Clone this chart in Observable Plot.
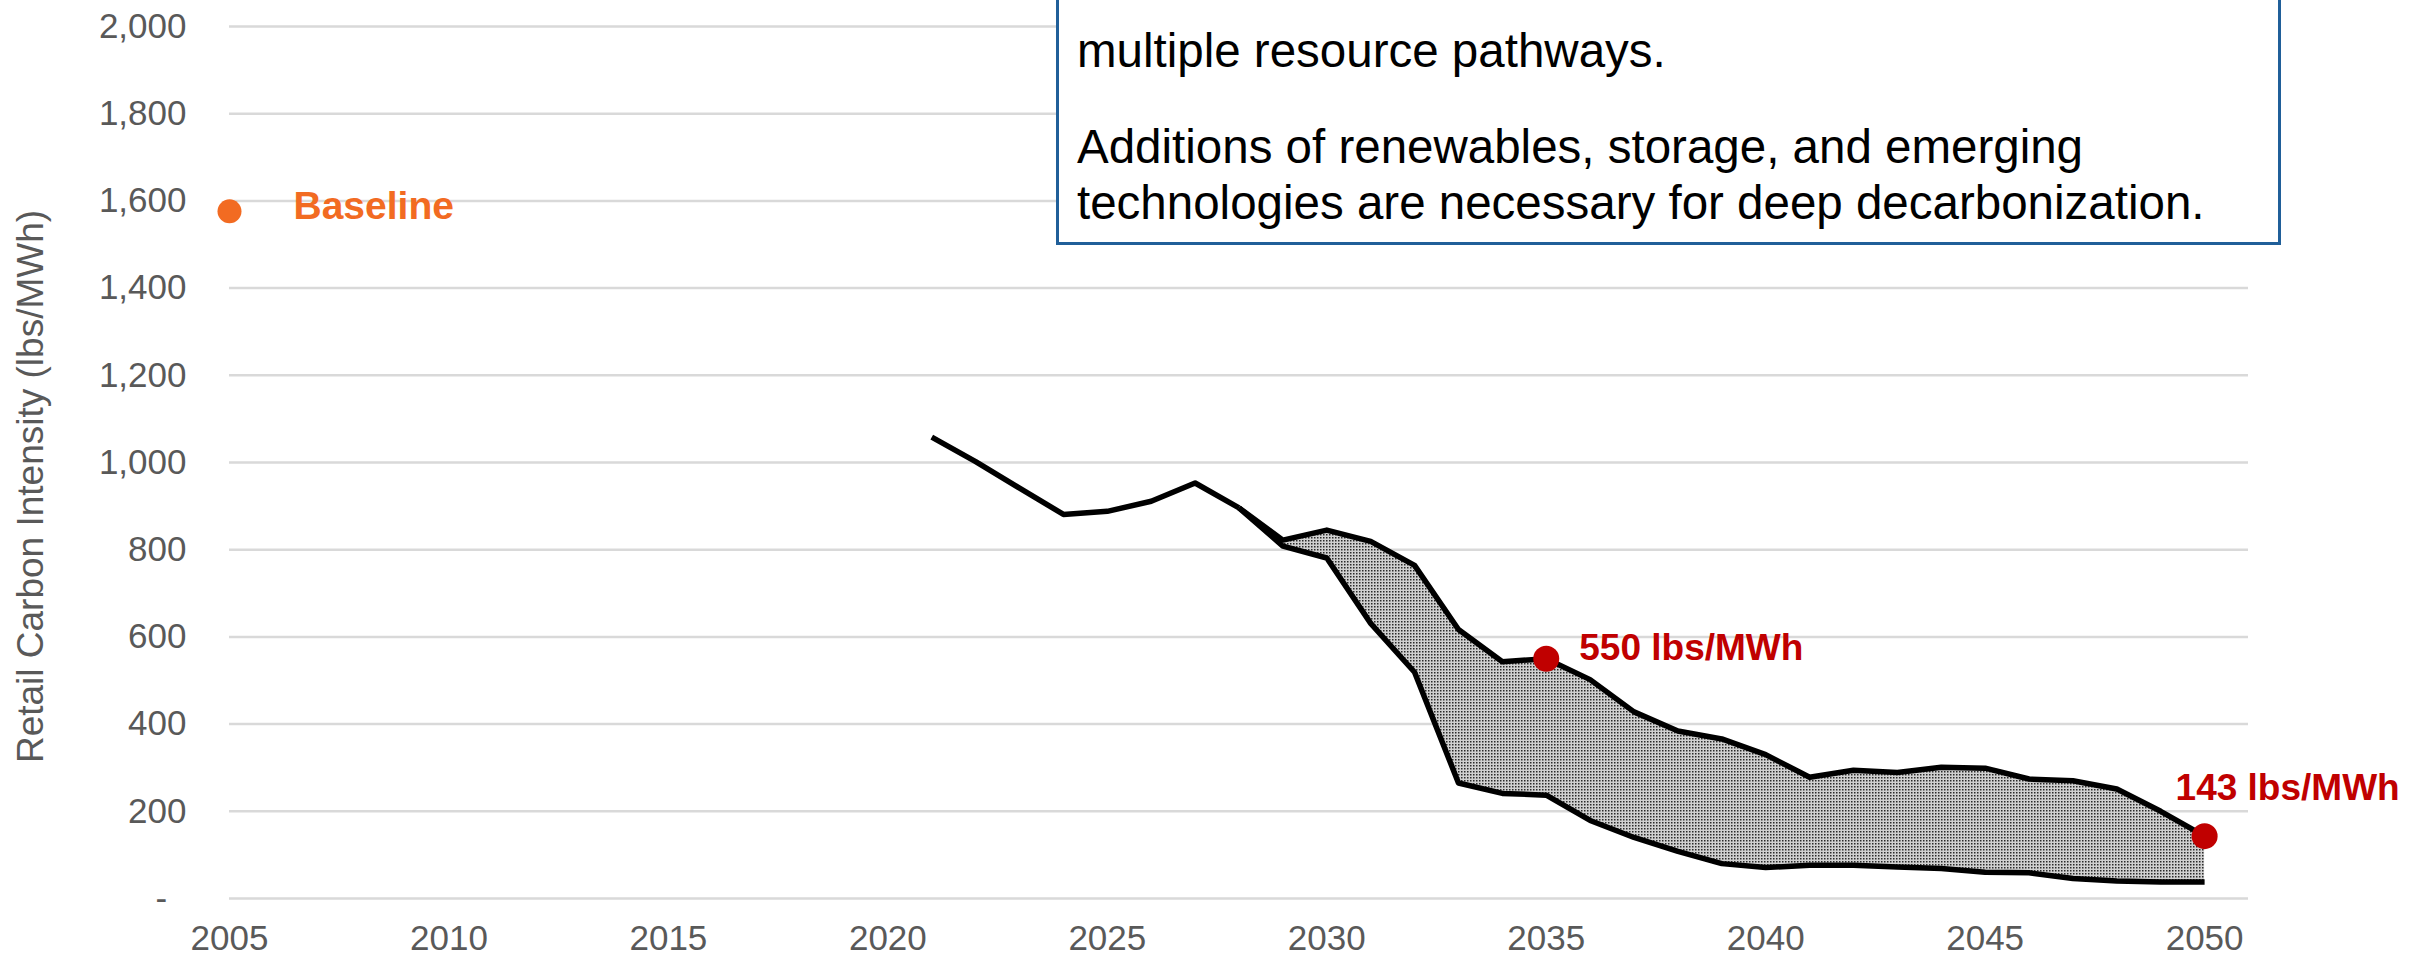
<!DOCTYPE html>
<html>
<head>
<meta charset="utf-8">
<script src="https://cdn.jsdelivr.net/npm/d3@7"></script>
<script src="https://cdn.jsdelivr.net/npm/@observablehq/plot@0.6"></script>
<style>
  html, body { margin: 0; padding: 0; background: #fff; }
  #wrap { position: relative; width: 2417px; height: 956px; overflow: hidden; background: #fff; }
  #wrap svg { position: absolute; left: 0; top: 0; }
  #note {
    position: absolute; left: 1056px; top: -30px; width: 1225px; height: 275px;
    box-sizing: border-box; border: 3px solid #205f99; background: #fff;
    font-family: "Liberation Sans", Arial, sans-serif; font-size: 47.5px; color: #000;
  }
  #note div { position: absolute; left: 18px; white-space: nowrap; line-height: 1; }
</style>
</head>
<body>
<div id="wrap"></div>
<script>
// ---- data ----
const leadYears  = [2021, 2022, 2023, 2024, 2025, 2026, 2027, 2028];
const leadValues = [1058, 1002, 941, 881, 888, 911, 953, 896];

const rangeYears  = [2028, 2029, 2030, 2031, 2032, 2033, 2034, 2035, 2036, 2037, 2038, 2039,
                     2040, 2041, 2042, 2043, 2044, 2045, 2046, 2047, 2048, 2049, 2050];
const upperValues = [896, 822, 845, 819, 764, 617, 543, 550, 502, 428, 384, 366,
                     330, 278, 294, 289, 301, 299, 274, 270, 251, 200, 143];
const lowerValues = [896, 808, 781, 631, 519, 265, 241, 237, 179, 140, 108, 80,
                     71, 76, 76, 72, 69, 60, 59, 46, 40, 38, 38];

const baselineYears  = [2005];
const baselineValues = [1576];
const baselineLabels = ["Baseline"];

const targetYears  = [2035, 2050];
const targetValues = [550, 143];
const targetLabels = ["550 lbs/MWh", "143 lbs/MWh"];

const xTicks = [2005, 2010, 2015, 2020, 2025, 2030, 2035, 2040, 2045, 2050];
const yTicks = [0, 200, 400, 600, 800, 1000, 1200, 1400, 1600, 1800, 2000];
const yTitle = ["Retail Carbon Intensity (lbs/MWh)"];

const noteLines = [
  "multiple resource pathways.",
  "Additions of renewables, storage, and emerging",
  "technologies are necessary for deep decarbonization."
];

// ---- tables built from the arrays ----
const lead = leadYears.map((year, i) => ({year, value: leadValues[i]}));
const range = rangeYears.map((year, i) => ({year, upper: upperValues[i], lower: lowerValues[i]}));
const baseline = baselineYears.map((year, i) => ({year, value: baselineValues[i], label: baselineLabels[i]}));
const targets = targetYears.map((year, i) => ({year, value: targetValues[i], label: targetLabels[i]}));

const fmt = d3.format(",");
const lineStyle = {stroke: "#000", strokeWidth: 5.5, strokeLinejoin: "round", strokeLinecap: "butt"};

const chart = Plot.plot({
  width: 2417,
  height: 956,
  marginLeft: 229,
  marginRight: 169,
  marginTop: 26,
  marginBottom: 58,
  style: {fontFamily: "'Liberation Sans', Arial, sans-serif", fontSize: "35px", color: "#595959", background: "#fff"},
  x: {domain: [2005, 2051], ticks: xTicks, tickFormat: d => String(d), tickSize: 0, tickPadding: 27, label: null},
  y: {domain: [0, 2000], ticks: yTicks, tickFormat: d => d === 0 ? "-\u00a0\u00a0" : fmt(d), tickSize: 0, tickPadding: 43, label: null},
  marks: [
    Plot.ruleY(yTicks, {stroke: "#d9d9d9", strokeWidth: 2.5}),
    Plot.areaY(range, {x: "year", y1: "lower", y2: "upper", fill: "url(#stipple)"}),
    Plot.line(lead, {x: "year", y: "value", ...lineStyle}),
    Plot.line(range, {x: "year", y: "upper", ...lineStyle}),
    Plot.line(range, {x: "year", y: "lower", ...lineStyle}),
    Plot.dot(baseline, {x: "year", y: "value", r: 12, fill: "#F26B22", stroke: "none"}),
    Plot.text(baseline, {x: "year", y: "value", text: "label", textAnchor: "start", dx: 64, dy: -5,
      fontSize: 39, fontWeight: "bold", fill: "#F26B22"}),
    Plot.dot(targets, {x: "year", y: "value", r: 13, fill: "#C00000", stroke: "none"}),
    Plot.text(targets.slice(0, 1), {x: "year", y: "value", text: "label", textAnchor: "start", dx: 33, dy: -11,
      fontSize: 37, fontWeight: "bold", fill: "#C00000"}),
    Plot.text(targets.slice(1), {x: "year", y: "value", text: "label", textAnchor: "middle", dx: 83, dy: -48,
      fontSize: 37, fontWeight: "bold", fill: "#C00000"}),
    Plot.text(yTitle, {text: d => d, frameAnchor: "left", textAnchor: "middle", rotate: -90, dx: -198, dy: 24,
      fontSize: 37, fill: "#595959"})
  ]
});

// stipple pattern for the range band
const defs = d3.select(chart).insert("defs", ":first-child");
const pat = defs.append("pattern").attr("id", "stipple").attr("patternUnits", "userSpaceOnUse")
  .attr("width", 3).attr("height", 3);
pat.append("rect").attr("width", 3).attr("height", 3).attr("fill", "#d0d0d0");
pat.append("rect").attr("width", 1.5).attr("height", 1.5).attr("fill", "#2a2a2a");

const wrap = document.getElementById("wrap");
wrap.appendChild(chart);

// annotation box
const note = document.createElement("div");
note.id = "note";
const tops = [54, 150, 206];
noteLines.forEach((t, i) => {
  const d = document.createElement("div");
  d.textContent = t;
  d.style.top = tops[i] + "px";
  note.appendChild(d);
});
wrap.appendChild(note);
</script>
</body>
</html>
